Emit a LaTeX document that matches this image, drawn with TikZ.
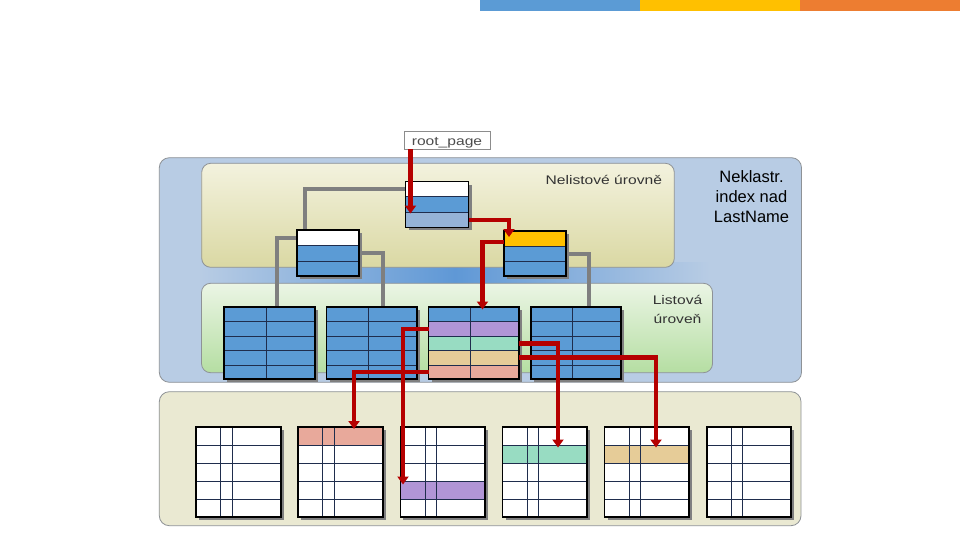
\documentclass[tikz,border=0pt]{standalone}
\usepackage{fontspec}
\setmainfont{Liberation Sans}
\newfontfamily\widesans[FakeStretch=1.25]{Liberation Sans}
\usetikzlibrary{arrows.meta,calc}
\pgfdeclarelayer{panels}
\pgfdeclarelayer{conns}
\pgfsetlayers{panels,conns,main}

\definecolor{cblue}{HTML}{5B9BD5}
\definecolor{cgblue}{HTML}{95B3D7}
\definecolor{cyel}{HTML}{FFC000}
\definecolor{corange}{HTML}{ED7D31}
\definecolor{cpurple}{HTML}{B195D6}
\definecolor{cmint}{HTML}{98DCC2}
\definecolor{ctan}{HTML}{E6CC98}
\definecolor{csalmon}{HTML}{E8A99B}
\definecolor{cnavy}{HTML}{1F2D4D}
\definecolor{credline}{HTML}{B50000}
\definecolor{cgreyline}{HTML}{7F7F7F}
\definecolor{couter}{HTML}{B8CCE4}
\definecolor{cband}{HTML}{5F98D6}
\definecolor{cpanelborder}{HTML}{8E9296}
\definecolor{cyeltop}{HTML}{F3F2DE}
\definecolor{cyelbot}{HTML}{DAD8A3}
\definecolor{cgrntop}{HTML}{EBF5E5}
\definecolor{cgrnbot}{HTML}{B5DEA2}
\definecolor{cbegedge}{HTML}{EAE9D2}
\definecolor{cbegmid}{HTML}{FBFBF4}

\tikzset{
  panel/.style={draw=cpanelborder, line width=0.8pt, rounded corners=9pt},
  cellbox/.style={draw=cnavy, line width=0.7pt, inner sep=0pt, outer sep=0pt},
  tableframe/.style={draw=black, line width=1.7pt, inner sep=0pt, outer sep=0pt},
  cellline/.style={draw=cnavy, line width=0.7pt},
  shadowc/.style={fill=black!50},
  redconn/.style={draw=credline, line width=4.5pt, -{Triangle[width=11pt,length=8pt]}},
  greyconn/.style={draw=cgreyline, line width=4pt},
  smalltext/.style={font=\widesans\fontsize{12.5}{19.5}\selectfont, text=black!80},
  bigtext/.style={font=\fontsize{16.5}{20.3}\selectfont, text=black, align=center}
}

% name x y w rowh nrows colors
\newcommand\stackrows[7]{%
  \fill[shadowc] ({#2+3},{#3+3}) rectangle ({#2+#4+3},{#3+#5*#6+3});
  \foreach \c [count=\i] in {#7} {
    \node[cellbox, fill=\c, minimum width=#4, minimum height=#5, anchor=north west]
      (#1-r\i) at ({#2},{#3+(\i-1)*#5}) {};
  }
}
% name x y w rowh nrows
\newcommand\frameit[6]{%
  \node[tableframe, minimum width=#4, minimum height={#5*#6}, anchor=north west]
    (#1) at ({#2},{#3}) {};
}
% name x y w rowh nrows colors columns
\newcommand\mktable[8]{%
  \stackrows{#1}{#2}{#3}{#4}{#5}{#6}{#7}
  \foreach \cx in {#8} {
    \draw[cellline] ({#2+\cx},{#3}) -- ({#2+\cx},{#3+#5*#6});
  }
  \frameit{#1}{#2}{#3}{#4}{#5}{#6}
}

\begin{document}
\begin{tikzpicture}[x=1pt,y=-1pt]
\useasboundingbox (0,0) rectangle (960,540);

\begin{pgfonlayer}{panels}
  \fill[white] (0,0) rectangle (960,540);
  \draw[panel, rounded corners=10pt, fill=couter] (159.3,157.7) rectangle (801.5,382.3);
  \shade[left color=couter, right color=couter, middle color=cband] (200,262) rectangle (710,288);
  \draw[panel, top color=cyeltop, bottom color=cyelbot] (201.7,163.3) rectangle (674.3,267.3);
  \draw[panel, top color=cgrntop, bottom color=cgrnbot] (201.5,283.3) rectangle (712.5,372.7);
  \draw[panel, rounded corners=10pt, left color=cbegedge, middle color=cbegmid, right color=cbegedge] (159.3,391.7) rectangle (801,525.7);
\end{pgfonlayer}

% top colour bars
\fill[cblue] (480,0) rectangle (640,11.5);
\fill[cyel] (640,0) rectangle (800,11.5);
\fill[corange] (800,0) rectangle (960,11.5);

% labels
\node[draw=black!45, fill=white, line width=0.6pt, minimum width=86, minimum height=18,
      inner sep=0pt, text height=11.5pt, text depth=0pt, smalltext, text=black!70] (rootpage) at (447,140) {root\_page};
\node[smalltext, anchor=base east] (nl) at (665.5,185) {Nelistové úrovně};
\node[smalltext, align=center] (ll) at (677.5,309.3) {Listová\\úroveň};
\node[bigtext] (title) at (751.5,196.5) {Neklastr.\\index nad\\LastName};

% non-leaf pages
\stackrows{root}{405.5}{181.5}{63}{15.3}{3}{white,cblue,cgblue}
\frameit{root}{405.5}{181.5}{63}{15.3}{3}
\stackrows{Ln}{297.3}{230.3}{62}{15.3}{3}{white,cblue,cblue}
\frameit{Ln}{297.3}{230.3}{62}{15.3}{3}
\stackrows{Rn}{504.3}{231}{62}{15.1}{3}{cyel,cblue,cblue}
\frameit{Rn}{504.3}{231}{62}{15.1}{3}

% leaf pages
\mktable{L1}{224.3}{307.3}{90.5}{14.4}{5}{cblue,cblue,cblue,cblue,cblue}{42}
\mktable{L2}{326.5}{307.3}{90.5}{14.4}{5}{cblue,cblue,cblue,cblue,cblue}{42}
\mktable{L3}{428.5}{307.3}{90.5}{14.4}{5}{cblue,cpurple,cmint,ctan,csalmon}{42}
\mktable{L4}{530.7}{307.3}{90.5}{14.4}{5}{cblue,cblue,cblue,cblue,cblue}{42}

% data pages
\mktable{B1}{196.2}{427.3}{84.5}{18}{5}{white,white,white,white,white}{24.5,36}
\mktable{B2}{298.3}{427.3}{84.5}{18}{5}{csalmon,white,white,white,white}{24.5,36}
\mktable{B3}{400.4}{427.3}{84.5}{18}{5}{white,white,white,cpurple,white}{24.5,36}
\mktable{B4}{502.5}{427.3}{84.5}{18}{5}{white,cmint,white,white,white}{24.5,36}
\mktable{B5}{604.6}{427.3}{84.5}{18}{5}{white,ctan,white,white,white}{24.5,36}
\mktable{B6}{706.7}{427.3}{84.5}{18}{5}{white,white,white,white,white}{24.5,36}

% grey tree connectors
\begin{pgfonlayer}{conns}
  \draw[greyconn] (root-r1.west) -| ($(Ln-r1.north west)+(8,0)$);
  \draw[greyconn] (Ln-r1.west) -| ($(L1-r1.north west)+(53,0)$);
  \draw[greyconn] (Ln-r2.east) -| ($(L2-r1.north west)+(56.5,0)$);
  \draw[greyconn] (Rn-r2.east) -| ($(L4-r1.north west)+(58.6,0)$);
\end{pgfonlayer}

% red search path
\coordinate (t1) at (410.5,213.5);
\coordinate (t2) at (509,237);
\coordinate (t3) at (482.5,309.5);
\coordinate (t4) at (403,484.5);
\coordinate (t5) at (354,429);
\coordinate (t6) at (558,447.5);
\coordinate (t7) at (656,447.5);
\draw[redconn] (t1 |- rootpage.south) -- (t1);
\draw[redconn] (root-r3.east) -| (t2);
\draw[redconn] ($(Rn-r1.west)+(0,3.5)$) -| (t3);
\draw[redconn] (L3-r2.west) -| (t4);
\draw[redconn] (L3-r5.west) -| (t5);
\draw[redconn] (L3-r3.east) -| (t6);
\draw[redconn] (L3-r4.east) -| (t7);
\end{tikzpicture}
\end{document}
